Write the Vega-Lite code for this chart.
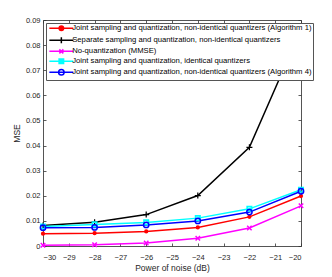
{
  "$schema": "https://vega.github.io/schema/vega-lite/v6.json",
  "width": 258,
  "height": 226,
  "autosize": {"type": "none"},
  "padding": {"left": 43, "top": 20, "right": 31, "bottom": 31},
  "config": {
    "font": "Liberation Sans",
    "view": {"stroke": "#555", "strokeWidth": 1},
    "axis": {"grid": false, "domain": false, "tickColor": "#333", "tickSize": -3, "tickWidth": 0.8, "labelColor": "#262626", "labelFontSize": 7.5, "titleColor": "#262626", "titleFontSize": 8.5, "titleFontWeight": "normal", "labelFont": "Liberation Sans", "titleFont": "Liberation Sans"},
    "legend": {"orient": "top-left", "offset": 3, "title": null, "padding": 1.5, "strokeColor": "#555", "fillColor": "white", "labelFontSize": 7.7, "labelLimit": 400, "labelColor": "#000", "labelFont": "Liberation Sans", "symbolSize": 25, "symbolStrokeWidth": 1.5, "symbolOffset": 10, "labelOffset": 7, "rowPadding": -1, "symbolOpacity": 1}
  },
  "data": {
    "values": [
      {"x": -30, "y": 0.0049, "series": "Joint sampling and quantization, non-identical quantizers (Algorithm 1)"},
      {"x": -28, "y": 0.0051, "series": "Joint sampling and quantization, non-identical quantizers (Algorithm 1)"},
      {"x": -26, "y": 0.0058, "series": "Joint sampling and quantization, non-identical quantizers (Algorithm 1)"},
      {"x": -24, "y": 0.0074, "series": "Joint sampling and quantization, non-identical quantizers (Algorithm 1)"},
      {"x": -22, "y": 0.0116, "series": "Joint sampling and quantization, non-identical quantizers (Algorithm 1)"},
      {"x": -20, "y": 0.0199, "series": "Joint sampling and quantization, non-identical quantizers (Algorithm 1)"},
      {"x": -30, "y": 0.0082, "series": "Separate sampling and quantization, non-identical quantizers"},
      {"x": -28, "y": 0.0095, "series": "Separate sampling and quantization, non-identical quantizers"},
      {"x": -26, "y": 0.0125, "series": "Separate sampling and quantization, non-identical quantizers"},
      {"x": -24, "y": 0.0201, "series": "Separate sampling and quantization, non-identical quantizers"},
      {"x": -22, "y": 0.0393, "series": "Separate sampling and quantization, non-identical quantizers"},
      {"x": -20, "y": 0.0862, "series": "Separate sampling and quantization, non-identical quantizers"},
      {"x": -30, "y": 0.0003, "series": "No-quantization (MMSE)"},
      {"x": -28, "y": 0.0005, "series": "No-quantization (MMSE)"},
      {"x": -26, "y": 0.0012, "series": "No-quantization (MMSE)"},
      {"x": -24, "y": 0.0031, "series": "No-quantization (MMSE)"},
      {"x": -22, "y": 0.0072, "series": "No-quantization (MMSE)"},
      {"x": -20, "y": 0.0160, "series": "No-quantization (MMSE)"},
      {"x": -30, "y": 0.0078, "series": "Joint sampling and quantization, identical quantizers"},
      {"x": -28, "y": 0.0086, "series": "Joint sampling and quantization, identical quantizers"},
      {"x": -26, "y": 0.0094, "series": "Joint sampling and quantization, identical quantizers"},
      {"x": -24, "y": 0.0111, "series": "Joint sampling and quantization, identical quantizers"},
      {"x": -22, "y": 0.0148, "series": "Joint sampling and quantization, identical quantizers"},
      {"x": -20, "y": 0.0224, "series": "Joint sampling and quantization, identical quantizers"},
      {"x": -30, "y": 0.0073, "series": "Joint sampling and quantization, non-identical quantizers (Algorithm 4)"},
      {"x": -28, "y": 0.0074, "series": "Joint sampling and quantization, non-identical quantizers (Algorithm 4)"},
      {"x": -26, "y": 0.0084, "series": "Joint sampling and quantization, non-identical quantizers (Algorithm 4)"},
      {"x": -24, "y": 0.0100, "series": "Joint sampling and quantization, non-identical quantizers (Algorithm 4)"},
      {"x": -22, "y": 0.0135, "series": "Joint sampling and quantization, non-identical quantizers (Algorithm 4)"},
      {"x": -20, "y": 0.0218, "series": "Joint sampling and quantization, non-identical quantizers (Algorithm 4)"}
    ]
  },
  "layer": [
    {
      "mark": {"type": "line", "strokeWidth": 1.5},
      "encoding": {
        "x": {"field": "x", "type": "quantitative", "scale": {"domain": [-30, -20], "nice": false, "zero": false}, "axis": {"orient": "bottom", "values": [-30, -29, -28, -27, -26, -25, -24, -23, -22, -21, -20], "labelPadding": 10, "title": "Power of noise (dB)", "titlePadding": 3}},
        "y": {"field": "y", "type": "quantitative", "scale": {"domain": [0, 0.09], "nice": false, "zero": true}, "axis": {"orient": "left", "values": [0, 0.01, 0.02, 0.03, 0.04, 0.05, 0.06, 0.07, 0.08, 0.09], "format": ".2~f", "labelPadding": 6, "title": "MSE", "titlePadding": 4}},
        "stroke": {"field": "series", "type": "nominal", "scale": {"domain": ["Joint sampling and quantization, non-identical quantizers (Algorithm 1)", "Separate sampling and quantization, non-identical quantizers", "No-quantization (MMSE)", "Joint sampling and quantization, identical quantizers", "Joint sampling and quantization, non-identical quantizers (Algorithm 4)"], "range": ["#ff0000", "#000000", "#ff00ff", "#00ffff", "#0000ff"]}}
      }
    },
    {
      "transform": [{"filter": {"field": "series", "equal": "Joint sampling and quantization, non-identical quantizers (Algorithm 1)"}}],
      "mark": {"type": "point", "shape": "circle", "filled": true, "size": 18, "color": "#ff0000", "opacity": 1},
      "encoding": {"x": {"field": "x", "type": "quantitative", "axis": null}, "y": {"field": "y", "type": "quantitative", "axis": null}}
    },
    {
      "transform": [{"filter": {"field": "series", "equal": "Separate sampling and quantization, non-identical quantizers"}}],
      "mark": {"type": "point", "shape": "M-1,0H1M0,-1V1", "filled": false, "size": 36, "color": "#000000", "strokeWidth": 1.2, "opacity": 1},
      "encoding": {"x": {"field": "x", "type": "quantitative", "axis": null}, "y": {"field": "y", "type": "quantitative", "axis": null}}
    },
    {
      "transform": [{"filter": {"field": "series", "equal": "No-quantization (MMSE)"}}],
      "mark": {"type": "point", "shape": "M-1,-1L1,1M-1,1L1,-1", "filled": false, "size": 20, "color": "#ff00ff", "strokeWidth": 1.5, "opacity": 1},
      "encoding": {"x": {"field": "x", "type": "quantitative", "axis": null}, "y": {"field": "y", "type": "quantitative", "axis": null}}
    },
    {
      "transform": [{"filter": {"field": "series", "equal": "Joint sampling and quantization, identical quantizers"}}],
      "mark": {"type": "point", "shape": "square", "filled": false, "size": 20, "color": "#00ffff", "strokeWidth": 1.6, "opacity": 1},
      "encoding": {"x": {"field": "x", "type": "quantitative", "axis": null}, "y": {"field": "y", "type": "quantitative", "axis": null}}
    },
    {
      "transform": [{"filter": {"field": "series", "equal": "Joint sampling and quantization, non-identical quantizers (Algorithm 4)"}}],
      "mark": {"type": "point", "shape": "circle", "filled": false, "size": 28, "color": "#0000ff", "strokeWidth": 1.5, "opacity": 1},
      "encoding": {"x": {"field": "x", "type": "quantitative", "axis": null}, "y": {"field": "y", "type": "quantitative", "axis": null}}
    },
    {
      "mark": {"type": "point", "filled": true, "size": 25, "opacity": 0},
      "encoding": {
        "x": {"field": "x", "type": "quantitative", "axis": {"orient": "top", "values": [-30, -29, -28, -27, -26, -25, -24, -23, -22, -21, -20], "labels": false, "title": null}},
        "y": {"field": "y", "type": "quantitative", "axis": {"orient": "right", "values": [0, 0.01, 0.02, 0.03, 0.04, 0.05, 0.06, 0.07, 0.08, 0.09], "labels": false, "title": null}},
        "fill": {"field": "series", "type": "nominal", "scale": {"domain": ["Joint sampling and quantization, non-identical quantizers (Algorithm 1)", "Separate sampling and quantization, non-identical quantizers", "No-quantization (MMSE)", "Joint sampling and quantization, identical quantizers", "Joint sampling and quantization, non-identical quantizers (Algorithm 4)"], "range": ["#ff0000", "#000000", "#ff00ff", "#00ffff", "#0000ff"]}},
        "stroke": {"field": "series", "type": "nominal"},
        "shape": {"field": "series", "type": "nominal", "scale": {"domain": ["Joint sampling and quantization, non-identical quantizers (Algorithm 1)", "Separate sampling and quantization, non-identical quantizers", "No-quantization (MMSE)", "Joint sampling and quantization, identical quantizers", "Joint sampling and quantization, non-identical quantizers (Algorithm 4)"], "range": [
            "M-4.8,0H4.8M0.9,0A0.9,0.9,0,1,1,-0.9,0A0.9,0.9,0,1,1,0.9,0Z",
            "M-4.8,0H4.8M0,-1.2V1.2",
            "M-4.8,0H4.8M-0.8,-0.8L0.8,0.8M-0.8,0.8L0.8,-0.8",
            "M-4.8,0H4.8M-0.9,-0.9H0.9V0.9H-0.9Z",
            "M-4.8,0H4.8M1.1,0A1.1,1.1,0,1,1,-1.1,0A1.1,1.1,0,1,1,1.1,0A1.1,1.1,0,1,0,-1.1,0A1.1,1.1,0,1,0,1.1,0"
          ]}}
      }
    }
  ],
  "resolve": {"axis": {"x": "independent", "y": "independent"}}
}
